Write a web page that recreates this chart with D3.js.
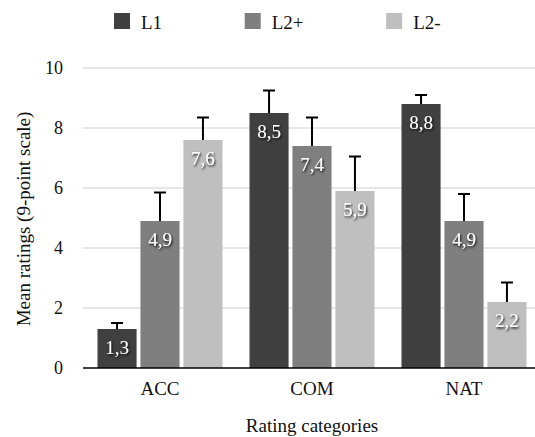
<!DOCTYPE html>
<html>
<head>
<meta charset="utf-8">
<script src="https://cdn.jsdelivr.net/npm/d3@7/dist/d3.min.js"></script>
<style>
  html, body { margin: 0; padding: 0; background: #fff; }
  svg { display: block; }
</style>
</head>
<body>
<svg id="chart" width="535" height="437"></svg>
<script>
// ---- data ----
const categories = ["ACC", "COM", "NAT"];
const seriesNames = ["L1", "L2+", "L2-"];
const seriesColors = ["#404040", "#7f7f7f", "#bfbfbf"];
const valuesL1 = [1.3, 8.5, 8.8];
const valuesL2plus = [4.9, 7.4, 4.9];
const valuesL2minus = [7.6, 5.9, 2.2];
const errorsL1 = [0.2, 0.75, 0.3];
const errorsL2plus = [0.95, 0.95, 0.9];
const errorsL2minus = [0.75, 1.15, 0.65];
const yTicks = [0, 2, 4, 6, 8, 10];
const yTitle = "Mean ratings (9-point scale)";
const xTitle = "Rating categories";

const seriesValues = [valuesL1, valuesL2plus, valuesL2minus];
const seriesErrors = [errorsL1, errorsL2plus, errorsL2minus];

const FONT = '"Liberation Serif", "Times New Roman", Times, serif';
const svg = d3.select("#chart");
const fmt = v => d3.format(".1f")(v).replace(".", ",");
const styleText = (sel, size) => sel.style("font-family", FONT).style("font-size", (size || 19) + "px").attr("fill", "#111");

const x0 = d3.scaleBand().domain(categories).range([84, 540]).paddingInner(0).paddingOuter(0);
const x1 = d3.scaleBand().domain(seriesNames).range([13.5, 152 - 13.5]).paddingInner(0.09);
const y = d3.scaleLinear().domain([0, 10]).range([368, 68]);

// filter for label shadow
const defs = svg.append("defs");
const f = defs.append("filter").attr("id", "shadow").attr("x", "-30%").attr("y", "-30%").attr("width", "160%").attr("height", "160%");
f.append("feDropShadow").attr("dx", 1).attr("dy", 1.5).attr("stdDeviation", 1.2).attr("flood-color", "#000").attr("flood-opacity", 0.9);

// gridlines
svg.append("g").selectAll("line").data(yTicks.filter(t => t > 0)).join("line")
  .attr("x1", 83).attr("x2", 535)
  .attr("y1", d => y(d)).attr("y2", d => y(d))
  .attr("stroke", "#d0d0d0").attr("stroke-width", 1.2);

// y tick labels via axis
const yAxis = svg.append("g").attr("transform", "translate(63,0)")
  .call(d3.axisLeft(y).tickValues(yTicks).tickSize(0).tickPadding(0).tickFormat(d3.format("d")));
yAxis.select(".domain").remove();
yAxis.selectAll("text").call(styleText, 18);

// bars
const groups = svg.append("g").selectAll("g").data(categories).join("g")
  .attr("transform", d => `translate(${x0(d)},0)`);

groups.each(function(cat, ci) {
  const g = d3.select(this);
  seriesNames.forEach((s, si) => {
    const v = seriesValues[si][ci];
    const e = seriesErrors[si][ci];
    const bx = x1(s), bw = x1.bandwidth();
    g.append("line").attr("x1", bx + bw / 2).attr("x2", bx + bw / 2)
      .attr("y1", y(v)).attr("y2", y(v + e))
      .attr("stroke", "#000").attr("stroke-width", 2);
    g.append("line").attr("x1", bx + bw / 2 - 6).attr("x2", bx + bw / 2 + 6)
      .attr("y1", y(v + e)).attr("y2", y(v + e))
      .attr("stroke", "#000").attr("stroke-width", 2);
    g.append("rect").attr("x", bx).attr("width", bw)
      .attr("y", y(v)).attr("height", y(0) - y(v))
      .attr("fill", seriesColors[si]);
    g.append("text").attr("x", bx + bw / 2).attr("y", y(v) + 24.5)
      .attr("text-anchor", "middle")
      .call(styleText, 19).attr("fill", "#fff")
      .attr("filter", "url(#shadow)")
      .text(fmt(v));
  });
});

// x axis
const xAxis = svg.append("g").attr("transform", "translate(0,368)")
  .call(d3.axisBottom(x0).tickSize(0).tickPadding(0));
xAxis.select(".domain").attr("d", "M83,0H535").attr("stroke", "#000").attr("stroke-width", 1.6);
xAxis.selectAll("text").call(styleText, 19).attr("dy", null).attr("y", 27);

// axis titles
svg.append("text").attr("x", 312).attr("y", 432).attr("text-anchor", "middle")
  .call(styleText, 19).text(xTitle);
svg.append("text").attr("transform", "translate(30,219) rotate(-90)")
  .attr("text-anchor", "middle").call(styleText, 19).text(yTitle);

// legend
const legend = svg.append("g");
let lx = 114;
seriesNames.forEach((s, i) => {
  legend.append("rect").attr("x", lx).attr("y", 13).attr("width", 16).attr("height", 16)
    .attr("fill", seriesColors[i]);
  const t = legend.append("text").attr("x", lx + 27).attr("y", 28.5).call(styleText, 19).text(s);
  lx = lx + 27 + t.node().getComputedTextLength() + 82.6;
});
</script>
</body>
</html>
